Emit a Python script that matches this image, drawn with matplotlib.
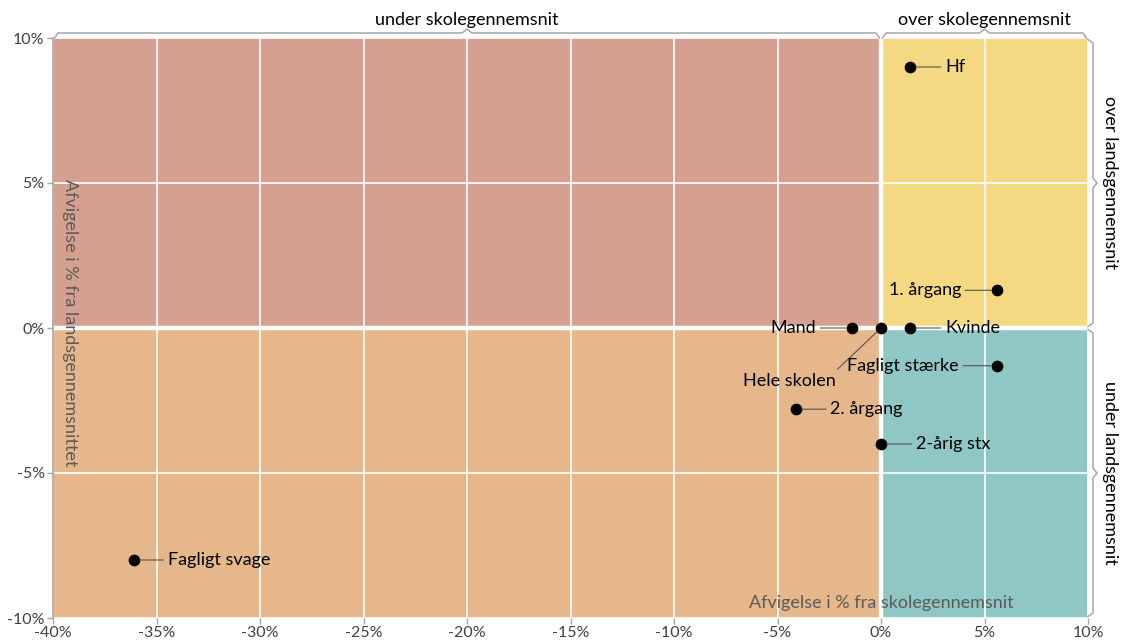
import matplotlib
matplotlib.use("Agg")
import matplotlib.pyplot as plt
from matplotlib import transforms
from matplotlib.patches import Rectangle

plt.rcParams['font.family'] = ['Lato', 'DejaVu Sans']

# ---- data ----
labels = ["Hf", "1. årgang", "Mand", "Hele skolen", "Kvinde",
          "Fagligt stærke", "2. årgang", "2-årig stx", "Fagligt svage"]
x_vals = [1.4, 5.6, -1.4, 0.0, 1.4, 5.6, -4.1, 0.0, -36.1]
y_vals = [9.0, 1.3, 0.0, 0.0, 0.0, -1.3, -2.8, -4.0, -8.0]
# label offset in pixels (dx, dy) relative to the point
label_offsets = [(35, 0), (-36, 0), (-36, 0), (-92, -53), (35, 0),
                 (-38, 0), (34, 0), (35, 0), (34, 0)]

x_ticks = [-40, -35, -30, -25, -20, -15, -10, -5, 0, 5, 10]
y_ticks = [-10, -5, 0, 5, 10]
x_lim = (-40, 10)
y_lim = (-10, 10)

top_groups = ["under skolegennemsnit", "over skolegennemsnit"]
right_groups = ["over landsgennemsnit", "under landsgennemsnit"]
x_title = "Afvigelse i % fra skolegennemsnit"
y_title = "Afvigelse i % fra landsgennemsnittet"

c_tl = "#d6a090"
c_tr = "#f5d882"
c_bl = "#e5b78a"
c_br = "#8fc7c4"
gray = "#a6a6a6"
text_gray = "#404040"

fig = plt.figure(figsize=(11.25, 6.42), dpi=100)
ax = fig.add_axes([53/1125, 24/642, 1035/1125, 580/642])
ax.set_xlim(*x_lim)
ax.set_ylim(*y_lim)

# quadrants
ax.add_patch(Rectangle((x_lim[0], 0), 0 - x_lim[0], y_lim[1], color=c_tl, zorder=0, lw=0))
ax.add_patch(Rectangle((0, 0), x_lim[1], y_lim[1], color=c_tr, zorder=0, lw=0))
ax.add_patch(Rectangle((x_lim[0], y_lim[0]), 0 - x_lim[0], -y_lim[0], color=c_bl, zorder=0, lw=0))
ax.add_patch(Rectangle((0, y_lim[0]), x_lim[1], -y_lim[0], color=c_br, zorder=0, lw=0))

# grid
for xv in x_ticks:
    ax.axvline(xv, color="white", lw=1.2, zorder=1)
for yv in y_ticks:
    ax.axhline(yv, color="white", lw=1.2, zorder=1)
ax.axvline(0, color="white", lw=3.2, zorder=1.5)
ax.axhline(0, color="white", lw=3.2, zorder=1.5)

# ticks
ax.set_xticks(x_ticks)
ax.set_xticklabels([f"{v}%" for v in x_ticks])
ax.set_yticks(y_ticks)
ax.set_yticklabels([f"{v}%" for v in y_ticks])
ax.tick_params(axis="both", colors=gray, labelcolor=text_gray, labelsize=11.5,
               length=4, width=1, direction="out", pad=2)
for s in ["top", "right", "bottom"]:
    ax.spines[s].set_visible(False)
ax.spines["left"].set_color(gray)
ax.spines["left"].set_linewidth(1.2)

# points and labels
ax.scatter(x_vals, y_vals, s=55, color="black", zorder=5)
for lab, xv, yv, (dx, dy) in zip(labels, x_vals, y_vals, label_offsets):
    if lab == "Hele skolen":
        ha, rel = "center", (0.98, 1.0)
    elif dx > 0:
        ha, rel = "left", (0.0, 0.5)
    else:
        ha, rel = "right", (1.0, 0.5)
    ax.annotate(lab, (xv, yv), xytext=(dx, dy), textcoords="offset pixels",
                ha=ha, va="center", fontsize=13, color="black", zorder=6,
                arrowprops=dict(arrowstyle="-", color="#555555", lw=0.8,
                                shrinkA=1, shrinkB=4, relpos=rel))

# axis titles inside plot
ax.text(0.0165, 0.5 + 5/580, y_title, transform=ax.transAxes, rotation=-90,
        ha="center", va="center", fontsize=13, color="#5a5a5a", zorder=4)
ax.text(0, y_lim[0] + 0.25, x_title, ha="center", va="bottom",
        fontsize=13, color="#5a5a5a", zorder=4)

# braces
W, H = 1035.0, 580.0
tb = transforms.blended_transform_factory(ax.transData, ax.transAxes)
rb = transforms.blended_transform_factory(ax.transAxes, ax.transData)


def top_brace(x0, x1, text):
    d = 5 / W * (x_lim[1] - x_lim[0])
    h = 5 / H
    p = 4 / H
    mid = (x0 + x1) / 2
    xs = [x0 + d * 0.3, x0 + d, mid - d, mid, mid + d, x1 - d, x1 - d * 0.3]
    ys = [1.0, 1 + h, 1 + h, 1 + h + p, 1 + h, 1 + h, 1.0]
    ax.plot(xs, ys, transform=tb, color=gray, lw=1.1, clip_on=False)
    ax.text(mid, 1 + 18 / H, text, transform=tb, ha="center", va="center",
            fontsize=13, color="black")


def right_brace(y0, y1, text):
    d = 5 / H * (y_lim[1] - y_lim[0])
    h = 5 / W
    p = 4 / W
    mid = (y0 + y1) / 2
    ys = [y0 + d * 0.3, y0 + d, mid - d, mid, mid + d, y1 - d, y1 - d * 0.3]
    xs = [1.0, 1 + h, 1 + h, 1 + h + p, 1 + h, 1 + h, 1.0]
    ax.plot(xs, ys, transform=rb, color=gray, lw=1.1, clip_on=False)
    ax.text(1 + 22 / W, mid, text, transform=rb, ha="center", va="center",
            rotation=-90, fontsize=13, color="black")


top_brace(x_lim[0], 0, top_groups[0])
top_brace(0, x_lim[1], top_groups[1])
right_brace(0, y_lim[1], right_groups[0])
right_brace(y_lim[0], 0, right_groups[1])

fig.savefig("out.png", dpi=100)
